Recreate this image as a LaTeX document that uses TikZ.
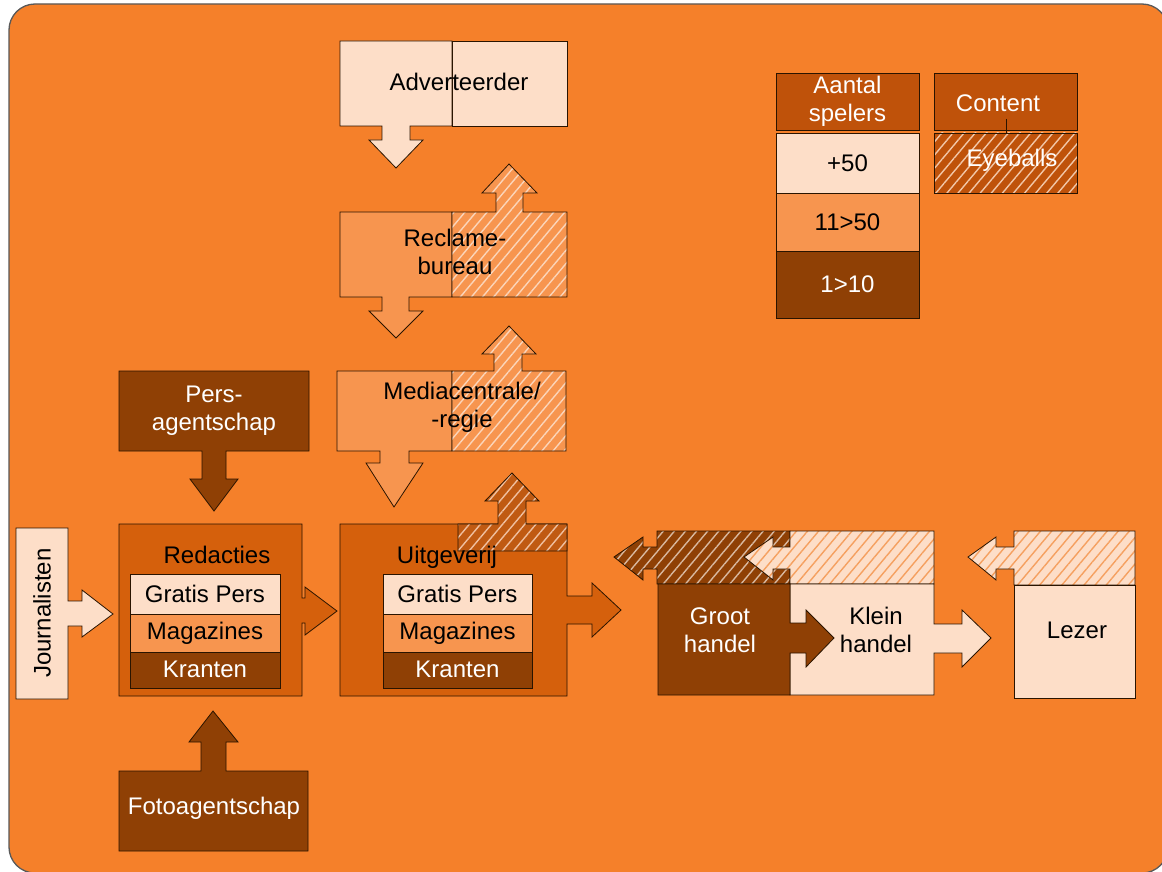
\documentclass[tikz,border=0pt]{standalone}
\usepackage{fontspec}
\setmainfont{Liberation Sans}
\usetikzlibrary{patterns.meta}
\definecolor{cBg}{HTML}{F5802A}
\definecolor{cPeach}{HTML}{FDDEC8}
\definecolor{cMid}{HTML}{F7954F}
\definecolor{cDark}{HTML}{D5600C}
\definecolor{cDarkH}{HTML}{C05A12}
\definecolor{cBrown}{HTML}{8F4005}
\definecolor{cHead}{HTML}{BF520A}
\definecolor{cLine}{HTML}{2A1400}
\definecolor{cMidStripe}{HTML}{FBD5BA}
\definecolor{cDarkStripe}{HTML}{F0C0A0}
\definecolor{cBrownStripe}{HTML}{D9B9A0}
\definecolor{cPeachStripe}{HTML}{F5A060}
\definecolor{cHeadStripe}{HTML}{F2C7A8}
\newcommand\fs{\fontsize{24}{28}\selectfont}
\begin{document}
\begin{tikzpicture}[x=1pt,y=-1pt,
  shp/.style={draw=cLine, line width=0.8pt, line join=miter},
  hatched/.style 2 args={preaction={fill=#1},
    preaction={pattern={Lines[angle=50,distance=8.5pt,line width=1.4pt]}, pattern color=#2},
    shp},
  lbl/.style={font=\fs, align=center, inner sep=0pt, text=black},
  wlbl/.style={lbl, text=white},
  cell/.style={shp, inner sep=0pt, font=\fs, align=center, text=black},
  wcell/.style={cell, text=white},
]
\useasboundingbox (0,0) rectangle (1162,872);
\fill[white] (0,0) rectangle (1162,872);
% backdrop
\draw[fill=cBg, draw=black!65, line width=1.3pt, rounded corners=26pt] (9,4) rectangle (1168,873);

% Adverteerder
\path[shp, fill=cPeach] (340,41) -- (452,41) -- (452,126) -- (410,126) -- (410,140) -- (423,140) -- (396,168) -- (369,140) -- (382,140) -- (382,126) -- (340,126) -- cycle;
\path[shp, fill=cPeach] (452,41) rectangle (567,126);
\node[lbl] (adv) at (459,82) {Adverteerder};

% Reclamebureau
\path[shp, fill=cMid] (340,212) -- (452,212) -- (452,297) -- (409,297) -- (409,311) -- (423,311) -- (396,338) -- (369,311) -- (382,311) -- (382,297) -- (340,297) -- cycle;
\path[hatched={cMid}{cMidStripe}] (452,297) -- (452,212) -- (496,212) -- (496,193) -- (482,193) -- (509,164) -- (537,193) -- (523,193) -- (523,212) -- (567,212) -- (567,297) -- cycle;
\node[lbl] (recl) at (455,252) {Reclame-\\bureau};

% Mediacentrale
\path[shp, fill=cMid] (337,371) -- (452,371) -- (452,451) -- (409,451) -- (409,463) -- (423,463) -- (394,507) -- (366,463) -- (380,463) -- (380,451) -- (337,451) -- cycle;
\path[hatched={cMid}{cMidStripe}] (452,451) -- (452,371) -- (494,371) -- (494,354) -- (482,354) -- (509,326) -- (536,354) -- (522,354) -- (522,371) -- (566,371) -- (566,451) -- cycle;
\node[lbl] (media) at (462,407) {Mediacentrale/\\-regie};

% Uitgeverij
\path[shp, fill=cDark] (340,524) -- (567,524) -- (567,596) -- (592,596) -- (592,583) -- (621,610) -- (592,637) -- (592,624) -- (567,624) -- (567,696) -- (340,696) -- cycle;
\path[hatched={cDarkH}{cDarkStripe}] (458,551) -- (458,524) -- (498,524) -- (498,501) -- (485,501) -- (512,473) -- (539,501) -- (526,501) -- (526,524) -- (567,524) -- (567,551) -- cycle;
\node[lbl] (uitg) at (447,557) {Uitgeverij};
\node[cell, fill=cPeach, minimum width=149pt, minimum height=40pt] (ugp) at (457.5,594) {Gratis Pers};
\node[cell, fill=cMid, minimum width=149pt, minimum height=38pt] (ugm) at (457.5,633) {Magazines};
\node[wcell, fill=cBrown, minimum width=149pt, minimum height=36pt, text depth=2pt] (ugk) at (457.5,670) {Kranten};

% Redacties
\path[shp, fill=cDark] (119,524) -- (302,524) -- (302,598) -- (305,598) -- (305,587) -- (337,611) -- (305,635) -- (305,623) -- (302,623) -- (302,696) -- (119,696) -- cycle;
\node[lbl] (red) at (217,555) {Redacties};
\node[cell, fill=cPeach, minimum width=150pt, minimum height=40pt] (rgp) at (205,594) {Gratis Pers};
\node[cell, fill=cMid, minimum width=150pt, minimum height=38pt] (rgm) at (205,633) {Magazines};
\node[wcell, fill=cBrown, minimum width=150pt, minimum height=36pt, text depth=2pt] (rgk) at (205,670) {Kranten};

% Journalisten
\path[shp, fill=cPeach] (16,528) -- (68,528) -- (68,601) -- (82,601) -- (82,590) -- (113,614) -- (82,637) -- (82,626) -- (68,626) -- (68,699) -- (16,699) -- cycle;
\node[lbl, rotate=90] (jour) at (42,613) {Journalisten};

% Persagentschap
\path[shp, fill=cBrown] (119,371) -- (309,371) -- (309,451) -- (226,451) -- (226,479) -- (238,479) -- (214,511) -- (190,479) -- (202,479) -- (202,451) -- (119,451) -- cycle;
\node[wlbl] (pers) at (214,411) {Pers-\\agentschap};

% Fotoagentschap
\path[shp, fill=cBrown] (119,851) -- (119,771) -- (201,771) -- (201,742) -- (189,742) -- (213,711) -- (238,742) -- (226,742) -- (226,771) -- (308,771) -- (308,851) -- cycle;
\node[wlbl] (foto) at (214,808) {Fotoagentschap};

% Groothandel, kleinhandel, lezer
\path[hatched={cBrown}{cBrownStripe}] (657,584) -- (657,569) -- (643,569) -- (643,580) -- (614,557) -- (643,537) -- (643,547) -- (657,547) -- (657,531) -- (790,531) -- (790,584) -- cycle;
\path[hatched={cPeach}{cPeachStripe}] (790,584) -- (790,569) -- (773,569) -- (773,580) -- (744,557) -- (773,537) -- (773,547) -- (790,547) -- (790,531) -- (934,531) -- (934,584) -- cycle;
\path[shp, fill=cPeach] (790,584) -- (934,584) -- (934,624) -- (962,624) -- (962,610) -- (991,638) -- (962,667) -- (962,653) -- (934,653) -- (934,695) -- (790,695) -- cycle;
\path[shp, fill=cBrown] (658,584) -- (790,584) -- (790,623) -- (806,623) -- (806,610) -- (834,638) -- (806,667) -- (806,653) -- (790,653) -- (790,695) -- (658,695) -- cycle;
\node[wlbl] (groot) at (720,630) {Groot\\handel};
\node[lbl] (klein) at (876,630) {Klein\\handel};

\path[hatched={cPeach}{cPeachStripe}] (1014,585) -- (1014,569) -- (996,569) -- (996,580) -- (968,557) -- (996,537) -- (996,547) -- (1014,547) -- (1014,531) -- (1135,531) -- (1135,585) -- cycle;
\path[shp, fill=cPeach] (1014,585) rectangle (1135,698);
\node[lbl] (lezer) at (1077,630) {Lezer};

% legend
\node[wcell, fill=cHead, minimum width=143pt, minimum height=57pt] (aantal) at (847.5,101.5) {Aantal\\spelers};
\node[cell, fill=cPeach, minimum width=143pt, minimum height=60pt] (l50) at (847.5,163) {+50};
\node[cell, fill=cMid, minimum width=143pt, minimum height=58pt] (l11) at (847.5,222) {11>50};
\node[wcell, fill=cBrown, minimum width=143pt, minimum height=67pt] (l1) at (847.5,284.5) {1>10};
\node[shp, fill=cHead, minimum width=143pt, minimum height=57pt] (content) at (1005.5,101.5) {};
\node[shp, minimum width=143pt, minimum height=60pt,
  preaction={fill=cHead},
  preaction={pattern={Lines[angle=50,distance=8.5pt,line width=1.4pt]}, pattern color=cHeadStripe}] (eyeb) at (1005.5,163) {};
\coordinate (tick) at (1006,119);
\draw[shp] (tick) -- (tick |- eyeb.north);
\node[wlbl] (contentT) at (998,103) {Content};
\node[wlbl] (eyebT) at (1012,160) {Eyeballs};
\end{tikzpicture}
\end{document}
